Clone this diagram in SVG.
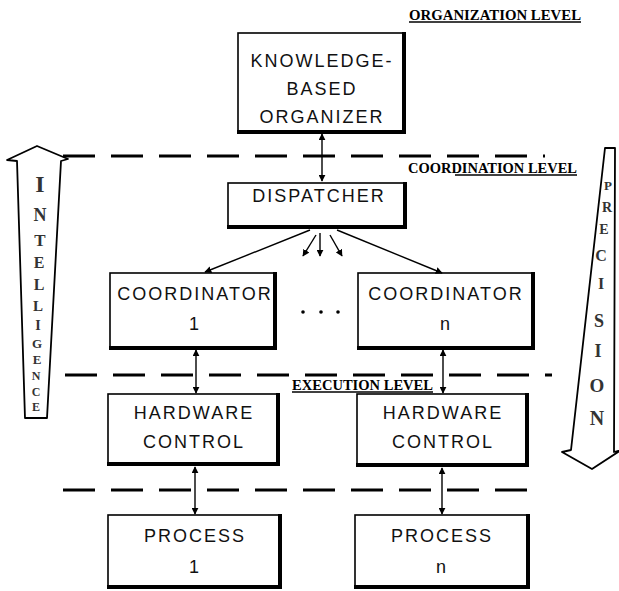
<svg xmlns="http://www.w3.org/2000/svg" width="619" height="591" viewBox="0 0 619 591">
  <style>
    .box { fill: #fff; stroke: #000; stroke-width: 1.6; }
    .shadow { fill: none; stroke: #000; stroke-width: 4; stroke-linecap: square; }
    .lbl { font-family: "Liberation Sans", Arial, sans-serif; font-size: 18px; letter-spacing: 2px; fill: #111; text-anchor: middle; }
    .lvl { font-family: "Liberation Serif", "Times New Roman", serif; font-weight: bold; font-size: 14px; fill: #000; }
    .uline { stroke: #000; stroke-width: 1.4; }
    .dash { stroke: #000; stroke-width: 3; stroke-dasharray: 32 16; fill: none; }
    .conn { stroke: #000; stroke-width: 1.4; fill: none; }
    .big { fill: #fff; stroke: #000; stroke-width: 1.8; stroke-linejoin: round; }
    .vl { font-family: "Liberation Serif", "Times New Roman", serif; font-weight: bold; fill: #333; text-anchor: middle; }
  </style>
  <defs>
    <marker id="ah" viewBox="0 0 10 10" refX="9" refY="5" markerWidth="7" markerHeight="7" markerUnits="userSpaceOnUse" orient="auto-start-reverse">
      <path d="M0,0 L10,5 L0,10 z" fill="#000"/>
    </marker>
  </defs>

  <!-- level separators -->
  <g id="levels">
    <line class="dash" x1="63" y1="156" x2="545" y2="156"/>
    <line class="dash" x1="65" y1="375" x2="552" y2="375"/>
    <line class="dash" x1="63" y1="490" x2="542" y2="490"/>
    <text class="lvl" x="409" y="20" textLength="172" lengthAdjust="spacingAndGlyphs">ORGANIZATION LEVEL</text>
    <line class="uline" x1="409" y1="22" x2="581" y2="22"/>
    <text class="lvl" x="408" y="173" textLength="169" lengthAdjust="spacingAndGlyphs">COORDINATION LEVEL</text>
    <line class="uline" x1="455" y1="175" x2="577" y2="175"/>
    <text class="lvl" x="292" y="390" textLength="141" lengthAdjust="spacingAndGlyphs">EXECUTION LEVEL</text>
    <line class="uline" x1="292" y1="392" x2="433" y2="392"/>
  </g>

  <!-- side arrows -->
  <g id="intelligence">
    <polygon class="big" points="37,146 68,159 61,161 47,418 25,418 17,161 7,160"/>
    <text class="vl" font-size="24" x="40" y="192">I</text>
    <text class="vl" font-size="18" x="40" y="221">N</text>
    <text class="vl" font-size="17" x="40" y="246">T</text>
    <text class="vl" font-size="16" x="39" y="268">E</text>
    <text class="vl" font-size="16" x="39" y="290">L</text>
    <text class="vl" font-size="15" x="38" y="311">L</text>
    <text class="vl" font-size="14" x="38" y="330">I</text>
    <text class="vl" font-size="13" x="37" y="348">G</text>
    <text class="vl" font-size="13" x="37" y="364">E</text>
    <text class="vl" font-size="12" x="36" y="380">N</text>
    <text class="vl" font-size="12" x="36" y="396">C</text>
    <text class="vl" font-size="12" x="36" y="411">E</text>
  </g>
  <g id="precision">
    <polygon class="big" points="605,148 615,148 614,452 621,450 592,469 562,452 571,450"/>
    <text class="vl" font-size="13" x="608" y="190">P</text>
    <text class="vl" font-size="14" x="607" y="212">R</text>
    <text class="vl" font-size="14" x="604" y="234">E</text>
    <text class="vl" font-size="16" x="601" y="261">C</text>
    <text class="vl" font-size="16" x="601" y="289">I</text>
    <text class="vl" font-size="18" x="599" y="327">S</text>
    <text class="vl" font-size="18" x="598" y="357">I</text>
    <text class="vl" font-size="19" x="597" y="392">O</text>
    <text class="vl" font-size="20" x="597" y="425">N</text>
  </g>

  <!-- nodes -->
  <g id="organizer">
    <rect class="box" x="238" y="33" width="166" height="99"/>
    <polyline class="shadow" points="404,34 404,132 239,132"/>
    <text class="lbl" x="322" y="67">KNOWLEDGE-</text>
    <text class="lbl" x="322" y="95">BASED</text>
    <text class="lbl" x="322" y="123">ORGANIZER</text>
  </g>
  <g id="dispatcher">
    <rect class="box" x="228" y="183" width="177" height="44"/>
    <polyline class="shadow" points="405,184 405,227 229,227"/>
    <text class="lbl" x="319" y="202">DISPATCHER</text>
  </g>
  <g id="coordinator-1">
    <rect class="box" x="110" y="273" width="165" height="75"/>
    <polyline class="shadow" points="275,274 275,348 111,348"/>
    <text class="lbl" x="195" y="300">COORDINATOR</text>
    <text class="lbl" x="195" y="330">1</text>
  </g>
  <g id="ellipsis">
    <circle cx="303" cy="312" r="1.8" fill="#000"/>
    <circle cx="321" cy="312" r="1.8" fill="#000"/>
    <circle cx="338" cy="312" r="1.8" fill="#000"/>
  </g>
  <g id="coordinator-n">
    <rect class="box" x="358" y="273" width="175" height="75"/>
    <polyline class="shadow" points="533,274 533,348 359,348"/>
    <text class="lbl" x="446" y="300">COORDINATOR</text>
    <text class="lbl" x="446" y="330">n</text>
  </g>
  <g id="hardware-1">
    <rect class="box" x="108" y="394" width="170" height="70"/>
    <polyline class="shadow" points="278,395 278,464 109,464"/>
    <text class="lbl" x="194" y="419">HARDWARE</text>
    <text class="lbl" x="194" y="448">CONTROL</text>
  </g>
  <g id="hardware-n">
    <rect class="box" x="357" y="394" width="170" height="71"/>
    <polyline class="shadow" points="527,395 527,465 358,465"/>
    <text class="lbl" x="443" y="419">HARDWARE</text>
    <text class="lbl" x="443" y="448">CONTROL</text>
  </g>
  <g id="process-1">
    <rect class="box" x="108" y="515" width="172" height="72"/>
    <polyline class="shadow" points="280,516 280,587 109,587"/>
    <text class="lbl" x="195" y="542">PROCESS</text>
    <text class="lbl" x="195" y="573">1</text>
  </g>
  <g id="process-n">
    <rect class="box" x="355" y="515" width="173" height="72"/>
    <polyline class="shadow" points="528,516 528,587 356,587"/>
    <text class="lbl" x="442" y="542">PROCESS</text>
    <text class="lbl" x="442" y="573">n</text>
  </g>

  <!-- connectors -->
  <g id="connectors">
    <line class="conn" x1="322" y1="134" x2="322" y2="181" marker-start="url(#ah)" marker-end="url(#ah)"/>
    <line class="conn" x1="310" y1="230" x2="205" y2="272" marker-end="url(#ah)"/>
    <line class="conn" x1="337" y1="230" x2="442" y2="273" marker-end="url(#ah)"/>
    <line class="conn" x1="316" y1="235" x2="303" y2="256" marker-end="url(#ah)"/>
    <line class="conn" x1="320" y1="233" x2="320" y2="256" marker-end="url(#ah)"/>
    <line class="conn" x1="330" y1="235" x2="342" y2="256" marker-end="url(#ah)"/>
    <line class="conn" x1="196" y1="350" x2="196" y2="393" marker-start="url(#ah)" marker-end="url(#ah)"/>
    <line class="conn" x1="443" y1="350" x2="443" y2="393" marker-start="url(#ah)" marker-end="url(#ah)"/>
    <line class="conn" x1="195" y1="467" x2="195" y2="514" marker-start="url(#ah)" marker-end="url(#ah)"/>
    <line class="conn" x1="442" y1="468" x2="442" y2="514" marker-start="url(#ah)" marker-end="url(#ah)"/>
  </g>
</svg>
